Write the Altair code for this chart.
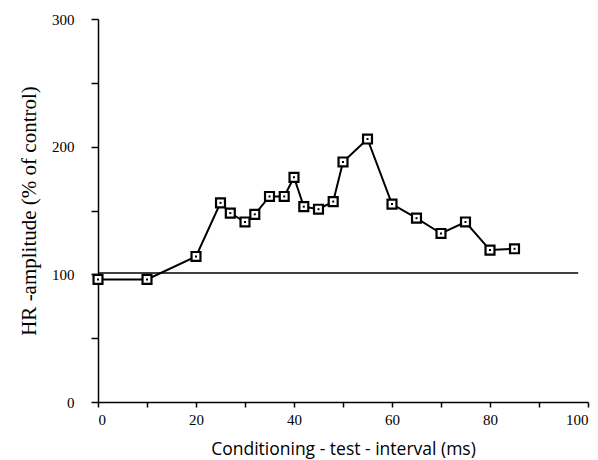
import altair as alt
import pandas as pd

interval_ms = [0, 10, 20, 25, 27, 30, 32, 35, 38, 40, 42, 45, 48, 50, 55, 60, 65, 70, 75, 80, 85]
amplitude = [96, 96, 114, 156, 148, 141, 147, 161, 161, 176, 153, 151, 157, 188, 206, 155, 144, 132, 141, 119, 120]

ref_x = [0, 98]
ref_y = [101, 101]

x_ticks = [0, 10, 20, 30, 40, 50, 60, 70, 80, 90, 100]
y_ticks = [0, 50, 100, 150, 200, 250, 300]

df = pd.DataFrame({"x": interval_ms, "y": amplitude})
ref = pd.DataFrame({"x": ref_x, "y": ref_y})

serif = "Liberation Serif"

xscale = alt.Scale(domain=[0, 100], nice=False, zero=False)
yscale = alt.Scale(domain=[0, 300], nice=False, zero=False)

xaxis = alt.Axis(
    values=x_ticks,
    labelExpr="datum.value % 20 == 0 ? datum.label : ''",
    title="Conditioning - test - interval (ms)",
    titleFont="Open Sans", titleFontSize=17.5, titleFontWeight="normal",
    titleColor="black", titlePadding=13,
    labelFont=serif, labelFontSize=15, labelColor="black", labelPadding=5,
    tickColor="black", tickSize=5, tickWidth=1.5,
    domainColor="black", domainWidth=1.5, grid=False,
)
yaxis = alt.Axis(
    values=y_ticks,
    labelExpr="datum.value % 100 == 0 ? datum.label : ''",
    title="HR -amplitude (% of control)",
    titleFont=serif, titleFontSize=21, titleFontWeight="normal",
    titleColor="black", titlePadding=12,
    labelFont=serif, labelFontSize=15, labelColor="black", labelPadding=17,
    tickColor="black", tickSize=7, tickWidth=1.5,
    domainColor="black", domainWidth=1.5, grid=False,
)

reference = alt.Chart(ref).mark_line(color="black", strokeWidth=1.6).encode(
    x=alt.X("x:Q", scale=xscale, axis=xaxis),
    y=alt.Y("y:Q", scale=yscale, axis=yaxis),
)

line = alt.Chart(df).mark_line(color="black", strokeWidth=2).encode(
    x=alt.X("x:Q", scale=xscale),
    y=alt.Y("y:Q", scale=yscale),
)

squares = alt.Chart(df).mark_point(
    shape="square", filled=False, fill="white", fillOpacity=1,
    stroke="black", strokeWidth=2.2, size=80, opacity=1,
).encode(
    x=alt.X("x:Q", scale=xscale),
    y=alt.Y("y:Q", scale=yscale),
)

dots = alt.Chart(df).mark_point(
    shape="square", filled=True, color="black", size=4, opacity=1,
).encode(
    x=alt.X("x:Q", scale=xscale),
    y=alt.Y("y:Q", scale=yscale),
)

chart = alt.layer(reference, line, squares, dots).properties(
    width=490, height=383,
    padding={"left": 98, "top": 19, "right": 10, "bottom": 58},
    autosize=alt.AutoSizeParams(type="none"),
    background="white",
).configure_view(stroke=None)

chart.save("out.html", embed_options={"renderer": "svg", "actions": False})
